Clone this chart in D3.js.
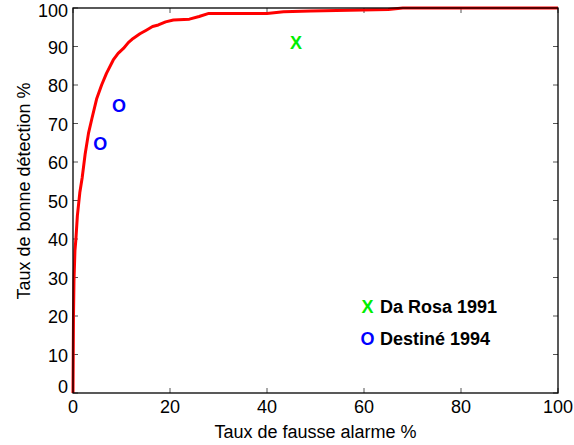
<!DOCTYPE html>
<html><head><meta charset="utf-8">
<script src="https://cdn.jsdelivr.net/npm/d3@7"></script>
<style>body{margin:0;background:#fff}svg{display:block}text{font-family:"Liberation Sans",Arial,sans-serif}</style>
</head><body>
<svg id="c" width="574" height="445"></svg>
<script>
const rocX = [0,0.05,0.1,0.2,0.4,0.6,0.9,1.4,1.9,2.5,3.2,3.9,4.9,5.9,6.9,8.3,9.3,10.4,11.4,12.4,13.8,15.2,16.4,17.6,19.1,20.7,24,26,28,40,43.4,49,65,68,100];
const rocY = [0,10,20,29,37,40,46,52,56,62,67.5,71.3,76.5,80,83,86.5,88.2,89.5,91,92.1,93.3,94.3,95.2,95.6,96.4,96.9,97.1,97.8,98.6,98.6,99,99.2,99.6,100,100];
const daRosaX = [46], daRosaY = [91];
const destineX = [5.6, 9.5], destineY = [64.9, 74.8];
const xTicks = [0,20,40,60,80,100];
const yTicks = [0,10,20,30,40,50,60,70,80,90,100];
const xLabel = "Taux de fausse alarme %";
const yLabel = "Taux de bonne détection %";
const legendLabels = ["Da Rosa 1991", "Destiné 1994"];

const svg = d3.select("#c");
const L=73, R=558, T=8, B=393;
const x = d3.scaleLinear().domain([0,100]).range([L,R]);
const y = d3.scaleLinear().domain([0,100]).range([B,T]);
const fs = 18;

// ticks (inside, all four sides)
const tk = 5, tkCol = "#555";
const g = svg.append("g");
xTicks.forEach(v=>{
  g.append("line").attr("x1",x(v)).attr("x2",x(v)).attr("y1",B).attr("y2",B-tk).attr("stroke",tkCol);
  g.append("line").attr("x1",x(v)).attr("x2",x(v)).attr("y1",T).attr("y2",T+tk).attr("stroke",tkCol);
  g.append("text").attr("x",x(v)).attr("y",413).attr("text-anchor","middle").attr("font-size",fs).text(v);
});
yTicks.forEach(v=>{
  g.append("line").attr("x1",L).attr("x2",L+tk).attr("y1",y(v)).attr("y2",y(v)).attr("stroke",tkCol);
  g.append("line").attr("x1",R).attr("x2",R-tk).attr("y1",y(v)).attr("y2",y(v)).attr("stroke",tkCol);
  // edge labels nudged inward, as in the reference
  const shift = v===0 ? -6 : (v===100 ? 2.5 : 0.8);
  g.append("text").attr("x",68).attr("y",y(v)+shift).attr("dy","0.36em").attr("text-anchor","end").attr("font-size",fs).text(v);
});

// curve
svg.append("path")
  .attr("d", d3.line().x((d,i)=>x(rocX[i])).y((d,i)=>y(rocY[i]))(rocX))
  .attr("fill","none").attr("stroke","#ff0000").attr("stroke-width",3).attr("stroke-linejoin","round");

// box
svg.append("rect").attr("x",L).attr("y",T).attr("width",R-L).attr("height",B-T)
  .attr("fill","none").attr("stroke","#000").attr("stroke-width",1.3);

// markers
daRosaX.forEach((v,i)=>svg.append("text").attr("x",x(v)).attr("y",y(daRosaY[i])).attr("dy","0.36em")
  .attr("text-anchor","middle").attr("font-size",fs).attr("font-weight","bold").attr("fill","#00ee00").text("X"));
destineX.forEach((v,i)=>svg.append("text").attr("x",x(v)).attr("y",y(destineY[i])).attr("dy","0.36em")
  .attr("text-anchor","middle").attr("font-size",fs).attr("font-weight","bold").attr("fill","#0000ff").text("O"));

// legend
const lg = [["X","#00ee00",306.5],["O","#0000ff",338.5]];
lg.forEach((d,i)=>{
  svg.append("text").attr("x",367.5).attr("y",d[2]).attr("dy","0.36em").attr("text-anchor","middle")
    .attr("font-size",fs).attr("font-weight","bold").attr("fill",d[1]).text(d[0]);
  svg.append("text").attr("x",380).attr("y",d[2]).attr("dy","0.36em")
    .attr("font-size",fs).attr("font-weight","bold").attr("fill","#000").text(legendLabels[i]);
});

// axis titles
svg.append("text").attr("x",(L+R)/2).attr("y",438).attr("text-anchor","middle").attr("font-size",fs).text(xLabel);
svg.append("text").attr("transform","translate(30,191) rotate(-90)").attr("text-anchor","middle").attr("font-size",fs).text(yLabel);
</script>
</body></html>
